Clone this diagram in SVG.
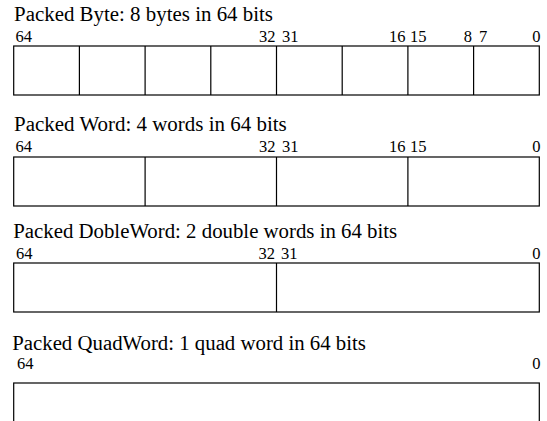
<svg xmlns="http://www.w3.org/2000/svg" width="547" height="421" viewBox="0 0 547 421">
<style>
  .title { font-family: "Liberation Serif", "Times New Roman", serif; font-size: 20px; fill: #000; }
  .num { font-family: "Liberation Serif", "Times New Roman", serif; font-size: 16.5px; fill: #000; }
  .end { text-anchor: end; }
  .box { fill: #fff; stroke: #000; stroke-width: 1.2; }
  .div { stroke: #000; stroke-width: 1.2; }
</style>
<rect width="547" height="421" fill="#fff"/>

<g id="packed-byte">
  <text class="title" x="14" y="21" textLength="259" lengthAdjust="spacingAndGlyphs">Packed Byte: 8 bytes in 64 bits</text>
  <text class="num" x="15.5" y="41.5">64</text>
  <text class="num end" x="275.5" y="41.5">32</text>
  <text class="num" x="282" y="41.5">31</text>
  <text class="num end" x="405.5" y="41.5">16</text>
  <text class="num" x="410" y="41.5">15</text>
  <text class="num end" x="472" y="41.5">8</text>
  <text class="num" x="479" y="41.5">7</text>
  <text class="num end" x="540.5" y="41.5">0</text>
  <rect class="box" x="13.7" y="46" width="525.6" height="49"/>
  <path class="div" d="M79.4 46V95M145.1 46V95M210.8 46V95M276.5 46V95M342.2 46V95M407.9 46V95M473.6 46V95"/>
</g>

<g id="packed-word">
  <text class="title" x="14" y="131" textLength="272.7" lengthAdjust="spacingAndGlyphs">Packed Word: 4 words in 64 bits</text>
  <text class="num" x="15.5" y="151.5">64</text>
  <text class="num end" x="275.5" y="151.5">32</text>
  <text class="num" x="282" y="151.5">31</text>
  <text class="num end" x="405.5" y="151.5">16</text>
  <text class="num" x="410" y="151.5">15</text>
  <text class="num end" x="540.5" y="151.5">0</text>
  <rect class="box" x="13.7" y="157" width="525.6" height="49"/>
  <path class="div" d="M145.1 157V206M276.5 157V206M407.9 157V206"/>
</g>

<g id="packed-doubleword">
  <text class="title" x="13.2" y="238" textLength="384" lengthAdjust="spacingAndGlyphs">Packed DobleWord: 2 double words in 64 bits</text>
  <text class="num" x="16" y="258.5">64</text>
  <text class="num end" x="275" y="258.5">32</text>
  <text class="num" x="281" y="258.5">31</text>
  <text class="num end" x="540.5" y="258.5">0</text>
  <rect class="box" x="13.7" y="263" width="525.6" height="49"/>
  <path class="div" d="M276.5 263V312"/>
</g>

<g id="packed-quadword">
  <text class="title" x="12.2" y="349.5" textLength="353.7" lengthAdjust="spacingAndGlyphs">Packed QuadWord: 1 quad word in 64 bits</text>
  <text class="num" x="17" y="369">64</text>
  <text class="num end" x="540.5" y="369">0</text>
  <rect class="box" x="13.7" y="383" width="525.6" height="60"/>
</g>

<g id="connectors"></g>
</svg>
